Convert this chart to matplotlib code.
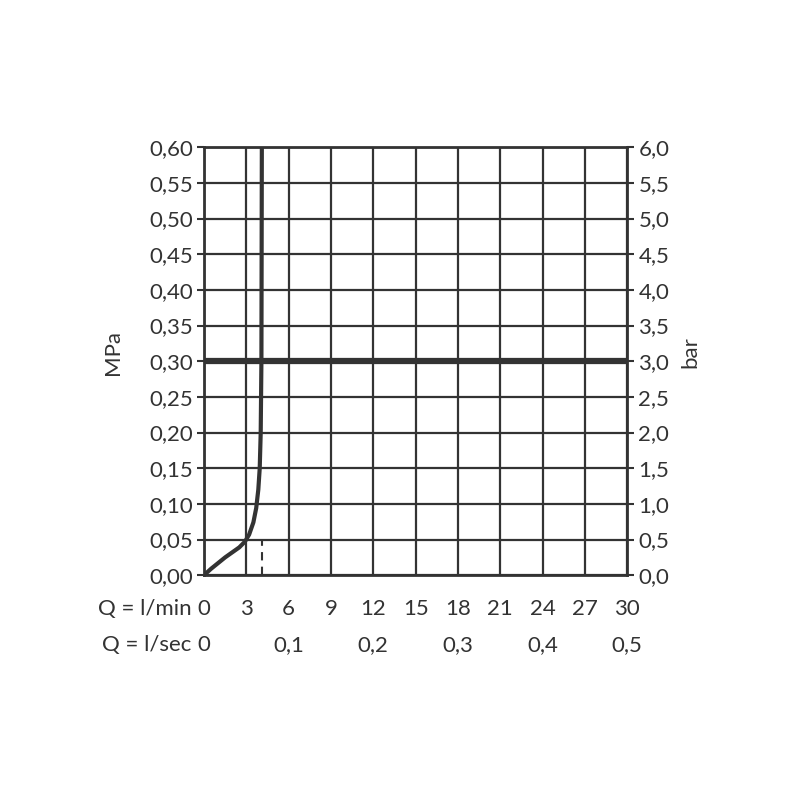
import numpy as np
import matplotlib
matplotlib.use("Agg")
import matplotlib.pyplot as plt
import matplotlib.transforms as mtransforms

plt.rcParams['font.family'] = ['Lato', 'DejaVu Sans']

# flow (l/min) vs pressure (MPa)
q_flow = [0, 0.5, 1.0, 1.5, 2.0, 2.5, 2.9, 3.2, 3.5, 3.7, 3.85, 3.95, 4.02, 4.07, 4.1]
p_mpa = [0, 0.009, 0.017, 0.025, 0.032, 0.039, 0.047, 0.057, 0.074, 0.094, 0.12, 0.15, 0.2, 0.3, 0.6]
q_max = 4.1
p_nominal = 0.30

lmin_ticks = [0, 3, 6, 9, 12, 15, 18, 21, 24, 27, 30]
lsec_pos = [0, 6, 12, 18, 24, 30]
lsec_labels = ['0', '0,1', '0,2', '0,3', '0,4', '0,5']
mpa_ticks = np.arange(0, 0.61, 0.05)
mpa_labels = ['0,00', '0,05', '0,10', '0,15', '0,20', '0,25', '0,30',
              '0,35', '0,40', '0,45', '0,50', '0,55', '0,60']
bar_labels = ['0,0', '0,5', '1,0', '1,5', '2,0', '2,5', '3,0',
              '3,5', '4,0', '4,5', '5,0', '5,5', '6,0']

ink = '#333333'
txt = '#333333'
fs = 16

fig = plt.figure(figsize=(8, 8), dpi=100)
ax = fig.add_axes([0.255, 0.281, 0.529, 0.535])

ax.set_xlim(0, 30)
ax.set_ylim(0, 0.6)
ax.set_xticks(lmin_ticks)
ax.set_xticklabels([])
ax.set_yticks(mpa_ticks)
ax.set_yticklabels(mpa_labels)
ax.grid(True, color=ink, linewidth=1.6)
ax.set_axisbelow(True)
for s in ax.spines.values():
    s.set_color(ink)
    s.set_linewidth(2)
ax.tick_params(axis='both', colors=ink, labelcolor=txt, labelsize=fs,
               width=1.5, length=5, pad=3)
ax.tick_params(axis='x', length=0)

ax.plot(q_flow, p_mpa, color=ink, linewidth=3, solid_capstyle='round', zorder=5)
ax.plot([q_max, q_max], [0, 0.05], color=ink, linewidth=1.5, linestyle=(0, (4, 3)), zorder=4)
ax.axhline(p_nominal, color=ink, linewidth=4.5, zorder=6)

ax.set_ylabel('MPa', fontsize=fs, color=txt)
ax.yaxis.set_label_coords(-0.191, 0.52)

ax2 = ax.twinx()
ax2.set_ylim(0, 6)
ax2.set_yticks(np.arange(0, 6.01, 0.5))
ax2.set_yticklabels(bar_labels)
ax2.tick_params(axis='y', colors=ink, labelcolor=txt, labelsize=fs, width=1.5, length=5, pad=3)
for s in ax2.spines.values():
    s.set_visible(False)
ax2.set_ylabel('bar', fontsize=fs, color=txt)
ax2.yaxis.set_label_coords(1.125, 0.521)

trans = mtransforms.blended_transform_factory(ax.transData, ax.transAxes)
for pos in lmin_ticks:
    ax.text(pos, -0.079, str(pos), transform=trans, ha='center', va='center',
            fontsize=fs, color=txt)
for pos, lab in zip(lsec_pos, lsec_labels):
    ax.text(pos, -0.164, lab, transform=trans, ha='center', va='center',
            fontsize=fs, color=txt)
ax.text(-0.9, -0.079, 'Q = l/min', transform=trans, ha='right', va='center',
        fontsize=fs, color=txt)
ax.text(-0.9, -0.164, 'Q = l/sec', transform=trans, ha='right', va='center',
        fontsize=fs, color=txt)

fig.savefig('out.png', dpi=100)
